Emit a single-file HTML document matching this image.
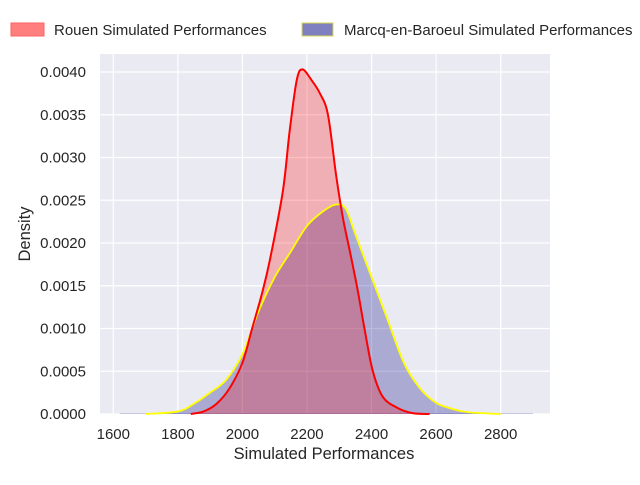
<!DOCTYPE html>
<html><head><meta charset="utf-8"><style>
body{margin:0;background:#fff;}
svg text{font-family:"Liberation Sans",sans-serif;fill:#262626;}
</style></head><body>
<svg width="640" height="480" viewBox="0 0 640 480">
<rect x="100" y="54" width="450" height="360" fill="#EAEAF2"/>
<g id="grid"></g>
<g id="marks"></g>
<g id="ticks"></g>
<text x="324" y="459" font-size="16.5" text-anchor="middle">Simulated Performances</text>
<text x="0" y="0" font-size="16.5" text-anchor="middle" transform="translate(30,234) rotate(-90)">Density</text>
<g>
<g>
<rect x="11" y="23" width="33" height="13" fill="rgba(255,0,0,0.5)" stroke="#ff6060"/>
<text x="54" y="35" font-size="15">Rouen Simulated Performances</text>
</g>
<g>
<rect x="302" y="23" width="31" height="13" fill="#8080c0" stroke="#d8d850"/>
<text x="344" y="35" font-size="15">Marcq-en-Baroeul Simulated Performances</text>
</g>
</g>
</svg>
<script>
const xTicks=[1600,1800,2000,2200,2400,2600,2800];
const yTicks=[0,0.0005,0.001,0.0015,0.002,0.0025,0.003,0.0035,0.004];
const yTickLabels=["0.0000","0.0005","0.0010","0.0015","0.0020","0.0025","0.0030","0.0035","0.0040"];
const rouenX=[1840,1880,1920,1960,2000,2030,2060,2085,2125,2146,2168,2186,2215,2240,2265,2290,2311,2333,2357,2379,2404,2435,2481,2527,2580];
const rouenY=[0,0.00003,0.00012,0.0003,0.0006,0.001,0.0014,0.0018,0.0026,0.0033,0.0039,0.00403,0.0039,0.00375,0.0035,0.0028,0.0023,0.0019,0.00145,0.00098,0.0005,0.0002,0.00007,0.00001,0];
const marcqX=[1700,1800,1850,1900,1950,2000,2050,2100,2150,2200,2250,2290,2320,2350,2400,2450,2500,2550,2600,2650,2700,2800];
const marcqY=[0,0.00003,0.00012,0.00025,0.0004,0.0007,0.0012,0.0016,0.0019,0.0022,0.00237,0.00245,0.0024,0.0021,0.0016,0.0011,0.0006,0.0003,0.00013,0.00006,0.00002,0];
const NS='http://www.w3.org/2000/svg';
const sx=v=>113.3+(v-1600)*0.3228;
const sy=v=>414-v*85500;
function mk(t,a,p){const e=document.createElementNS(NS,t);for(const k in a)e.setAttribute(k,a[k]);p.appendChild(e);return e;}
const grid=document.getElementById('grid'),marks=document.getElementById('marks'),ticks=document.getElementById('ticks');
xTicks.forEach(v=>{
 const l=mk('line',{x1:sx(v),x2:sx(v),y1:54,y2:414,stroke:'#fff','stroke-width':1.2},grid);
 
 
 const t=mk('text',{x:sx(v),y:439,'font-size':15,'text-anchor':'middle'},ticks);t.textContent=v;
 
 
});
yTicks.forEach((v,i)=>{
 const l=mk('line',{x1:100,x2:550,y1:sy(v),y2:sy(v),stroke:'#fff','stroke-width':1.2},grid);
 
 
 const t=mk('text',{x:86,y:sy(v)+5,'font-size':15,'text-anchor':'end'},ticks);t.textContent=yTickLabels[i];
 
 
});
function smooth(xs,ys){
 const p=xs.map((x,i)=>[sx(x),sy(ys[i])]);
 let d='M'+p[0][0]+','+p[0][1];
 for(let i=0;i<p.length-1;i++){
  const p0=p[Math.max(0,i-1)],p1=p[i],p2=p[i+1],p3=p[Math.min(p.length-1,i+2)];
  const c1=[p1[0]+(p2[0]-p0[0])/6,p1[1]+(p2[1]-p0[1])/6];
  const c2=[p2[0]-(p3[0]-p1[0])/6,p2[1]-(p3[1]-p1[1])/6];
  d+=' C'+c1[0]+','+c1[1]+' '+c2[0]+','+c2[1]+' '+p2[0]+','+p2[1];
 }
 return d;
}
const mLine=smooth(marcqX,marcqY),rLine=smooth(rouenX,rouenY);
const base=mk('line',{x1:sx(1620),x2:sx(2900),y1:sy(0)-0.5,y2:sy(0)-0.5,stroke:'rgba(0,0,128,0.2)','stroke-width':1},marks);


const mf=mk('path',{d:mLine+' L'+sx(marcqX[marcqX.length-1])+','+sy(0)+' L'+sx(marcqX[0])+','+sy(0)+'Z',fill:'rgba(0,0,128,0.27)'},marks);


const rf=mk('path',{d:rLine+' L'+sx(rouenX[rouenX.length-1])+','+sy(0)+' L'+sx(rouenX[0])+','+sy(0)+'Z',fill:'rgba(255,0,0,0.25)'},marks);


const ml=mk('path',{d:mLine,fill:'none',stroke:'#ffff00','stroke-width':1.8},marks);


const rl=mk('path',{d:rLine,fill:'none',stroke:'#ff0000','stroke-width':2},marks);


</script>
</body></html>
